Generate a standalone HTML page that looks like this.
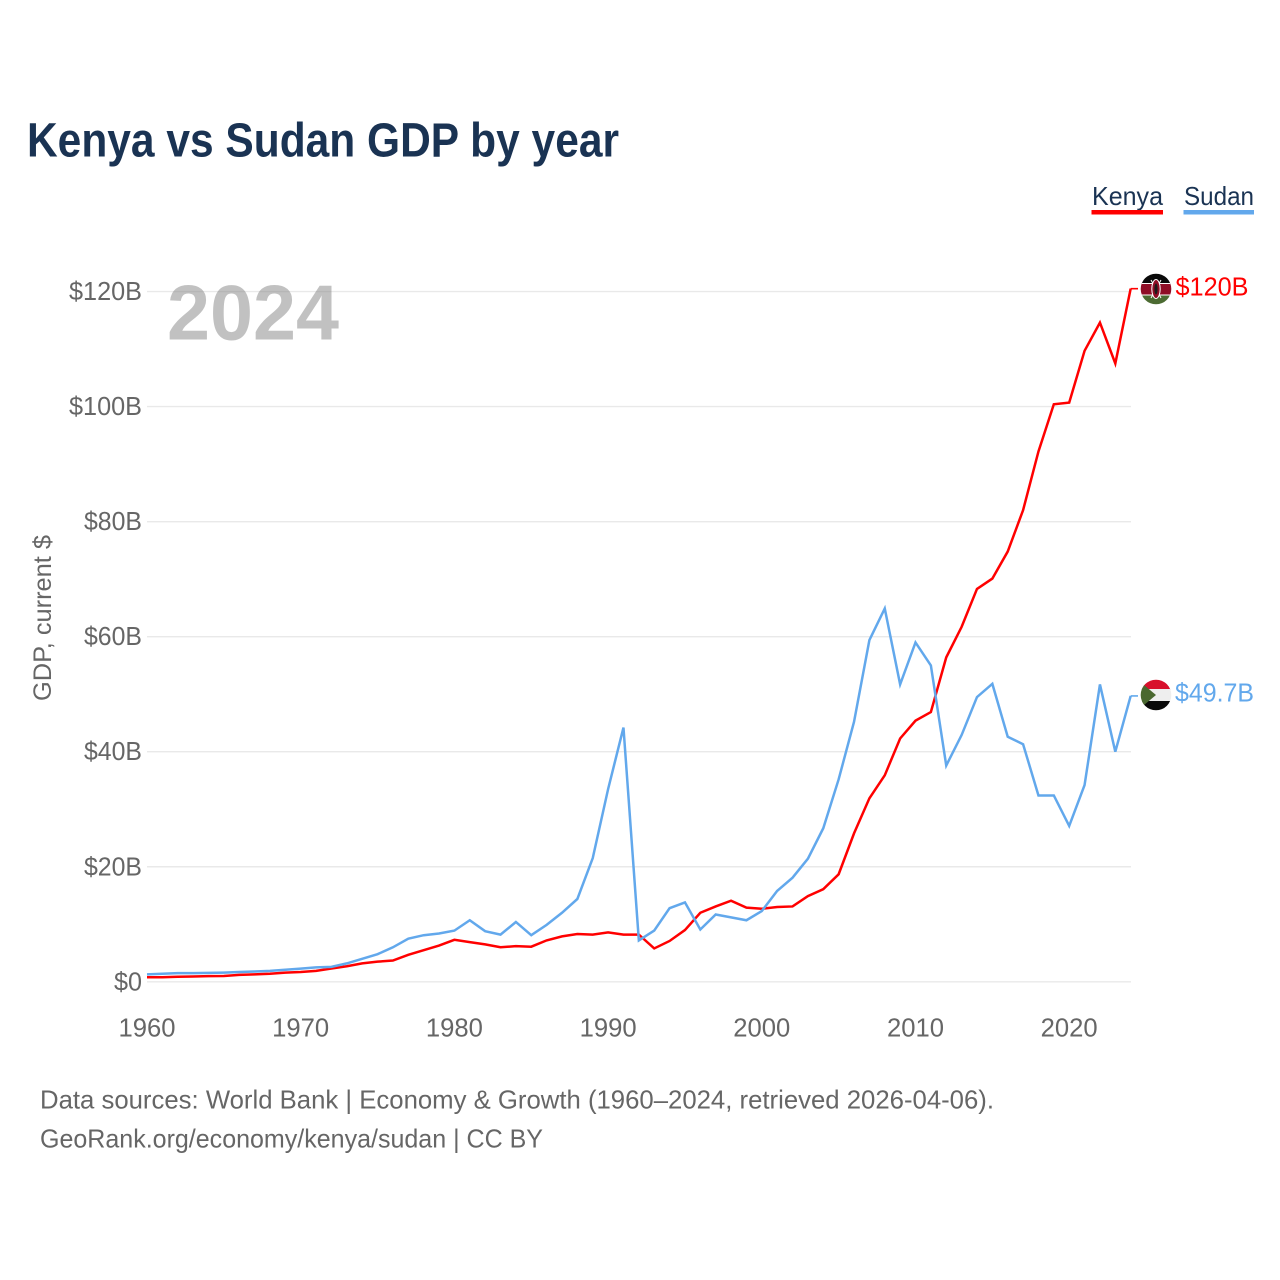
<!DOCTYPE html>
<html lang="en">
<head>
<meta charset="utf-8">
<title>Kenya vs Sudan GDP by year</title>
<style>
html,body{margin:0;padding:0;background:#fff;}
svg{display:block;font-family:"Liberation Sans",sans-serif;}
</style>
</head>
<body>
<svg id="chart" xmlns="http://www.w3.org/2000/svg" width="1280" height="1280" viewBox="0 0 1280 1280">
  <defs>
    <clipPath id="flag-clip-ke"><circle cx="1156" cy="289" r="15.3"/></clipPath>
    <clipPath id="flag-clip-sd"><circle cx="1156" cy="695" r="15.3"/></clipPath>
  </defs>
  <rect x="0" y="0" width="1280" height="1280" fill="#ffffff"/>
  <text x="27" y="156.5" font-size="48" font-weight="700" fill="#1a3353" textLength="592" lengthAdjust="spacingAndGlyphs">Kenya vs Sudan GDP by year</text>

  <g>
    <text x="1092" y="205" font-size="26" fill="#1a3353" textLength="71" lengthAdjust="spacingAndGlyphs">Kenya</text>
    <rect x="1091.5" y="210" width="71.5" height="4.5" fill="#ff0000"/>
  </g>
  <g>
    <text x="1184" y="205" font-size="26" fill="#1a3353" textLength="70" lengthAdjust="spacingAndGlyphs">Sudan</text>
    <rect x="1183.5" y="210" width="70.5" height="4.5" fill="#62a8ec"/>
  </g>

  <text transform="translate(51 618) rotate(-90)" text-anchor="middle" font-size="25" fill="#666666" textLength="166" lengthAdjust="spacingAndGlyphs">GDP, current $</text>

  <g id="grid"></g>
  <g id="y-ticks"></g>
  <g id="x-ticks"></g>

  <text x="167" y="339.5" font-size="78" font-weight="700" fill="#888888" fill-opacity="0.52" textLength="172" lengthAdjust="spacingAndGlyphs">2024</text>

  <g id="series"></g>

  <g clip-path="url(#flag-clip-ke)">
    <rect x="1140" y="273" width="32" height="11" fill="#0a0a0a"/>
    <rect x="1140" y="283" width="32" height="13" fill="#ffffff"/>
    <rect x="1140" y="284" width="32" height="10.5" fill="#8f0d26"/>
    <rect x="1140" y="295.5" width="32" height="10" fill="#4c6b32"/>
    <line x1="1151" y1="280" x2="1161" y2="298" stroke="#ffffff" stroke-width="1"/>
    <line x1="1161" y1="280" x2="1151" y2="298" stroke="#ffffff" stroke-width="1"/>
    <ellipse cx="1156" cy="289" rx="4.2" ry="9.5" fill="#8f0d26" stroke="#ffffff" stroke-width="1"/>
    <ellipse cx="1156" cy="289" rx="1.6" ry="5.5" fill="#1a1a1a"/>
  </g>
  <g clip-path="url(#flag-clip-sd)">
    <rect x="1140" y="679" width="32" height="10.5" fill="#d8102c"/>
    <rect x="1140" y="689" width="32" height="12.5" fill="#eeeeee"/>
    <rect x="1140" y="701" width="32" height="11" fill="#0a0a0a"/>
    <polygon points="1136,678.3 1156,695 1136,711.7" fill="#4a682f"/>
  </g>

  <g id="end-labels"></g>

  <text x="40" y="1108.5" font-size="26" fill="#666666" textLength="954" lengthAdjust="spacingAndGlyphs">Data sources: World Bank | Economy &amp; Growth (1960–2024, retrieved 2026-04-06).</text>
  <text x="40" y="1147.5" font-size="26" fill="#666666" textLength="503" lengthAdjust="spacingAndGlyphs">GeoRank.org/economy/kenya/sudan | CC BY</text>
</svg>
<script>
const firstYear = 1960;
const kenyaValues = [0.79,0.79,0.87,0.93,0.98,1.0,1.2,1.3,1.4,1.6,1.7,1.9,2.3,2.7,3.2,3.5,3.7,4.7,5.5,6.3,7.3,6.9,6.5,6.0,6.2,6.1,7.2,7.9,8.3,8.2,8.6,8.2,8.2,5.8,7.1,9.0,12.0,13.1,14.1,12.9,12.7,13.0,13.1,14.9,16.1,18.7,25.8,31.9,35.9,42.3,45.4,46.9,56.4,61.7,68.3,70.1,74.8,82.0,92.2,100.4,100.7,109.7,114.6,107.5,120.5];
const sudanValues = [1.3,1.4,1.5,1.5,1.55,1.6,1.7,1.8,1.9,2.1,2.3,2.5,2.6,3.2,4.0,4.8,6.0,7.5,8.1,8.4,8.9,10.7,8.8,8.2,10.4,8.1,9.9,12.0,14.4,21.5,33.5,44.2,7.2,8.9,12.8,13.8,9.1,11.7,11.2,10.7,12.3,15.8,18.1,21.4,26.7,35.2,45.2,59.4,64.9,51.7,59.0,55.0,37.6,42.9,49.5,51.8,42.6,41.3,32.4,32.4,27.1,34.2,51.7,40.0,49.7];
const yTickValues = [0,20,40,60,80,100,120];
const yTickLabels = ["$0","$20B","$40B","$60B","$80B","$100B","$120B"];
const xTickYears = [1960,1970,1980,1990,2000,2010,2020];
const kenyaEndLabel = "$120B";
const sudanEndLabel = "$49.7B";

const NS = "http://www.w3.org/2000/svg";
function xScale(year){ return 147 + (year - 1960) * 15.37; }
function yScale(v){ return 981.8 - v * 5.752; }
function make(tag, parent, attrs){
  const el = document.createElementNS(NS, tag);
  for (const k in attrs) el.setAttribute(k, attrs[k]);
  parent.appendChild(el);
  return el;
}
const grid = document.getElementById("grid");
const yTicks = document.getElementById("y-ticks");
const xTicks = document.getElementById("x-ticks");
const series = document.getElementById("series");
const endLabels = document.getElementById("end-labels");

yTickValues.forEach(function(v, i){
  const line = make("line", grid, {x1:147, x2:1131, y1:yScale(v), y2:yScale(v), stroke:"#e9e9e9", "stroke-width":1.4});
  
  
  const label = make("text", yTicks, {x:142, y:yScale(v)+8.5, "text-anchor":"end", "font-size":25.5, fill:"#666666", textLength:yTickLabels[i].length*15-2, lengthAdjust:"spacingAndGlyphs"});
  label.textContent = yTickLabels[i];
  
  
});
xTickYears.forEach(function(y){
  const label = make("text", xTicks, {x:xScale(y), y:1036.5, "text-anchor":"middle", "font-size":25.5, fill:"#666666", textLength:57, lengthAdjust:"spacingAndGlyphs"});
  label.textContent = String(y);
  
  
});
function pathFor(values){
  let d = "";
  values.forEach(function(v, i){
    d += (i ? "L" : "M") + xScale(firstYear + i).toFixed(2) + " " + yScale(v).toFixed(2);
  });
  return d;
}
function connectorFor(values){
  const last = values[values.length - 1];
  return "M" + xScale(firstYear + values.length - 1).toFixed(2) + " " + yScale(last).toFixed(2) + "L1138 " + yScale(last).toFixed(2);
}
const kenyaLine = make("path", series, {d:pathFor(kenyaValues), fill:"none", stroke:"#ff0000", "stroke-width":2.5, "stroke-linejoin":"miter"});


const kenyaConnector = make("path", series, {d:connectorFor(kenyaValues), fill:"none", stroke:"#ff0000", "stroke-width":1.6});


const sudanLine = make("path", series, {d:pathFor(sudanValues), fill:"none", stroke:"#62a8ec", "stroke-width":2.5, "stroke-linejoin":"miter"});


const sudanConnector = make("path", series, {d:connectorFor(sudanValues), fill:"none", stroke:"#62a8ec", "stroke-width":1.6});



const kLabel = make("text", endLabels, {x:1175.5, y:295.5, "font-size":25.5, fill:"#ff0000", textLength:73, lengthAdjust:"spacingAndGlyphs"});
kLabel.textContent = kenyaEndLabel;


const sLabel = make("text", endLabels, {x:1175, y:701.5, "font-size":25.5, fill:"#62a8ec", textLength:79, lengthAdjust:"spacingAndGlyphs"});
sLabel.textContent = sudanEndLabel;


</script>
</body>
</html>
